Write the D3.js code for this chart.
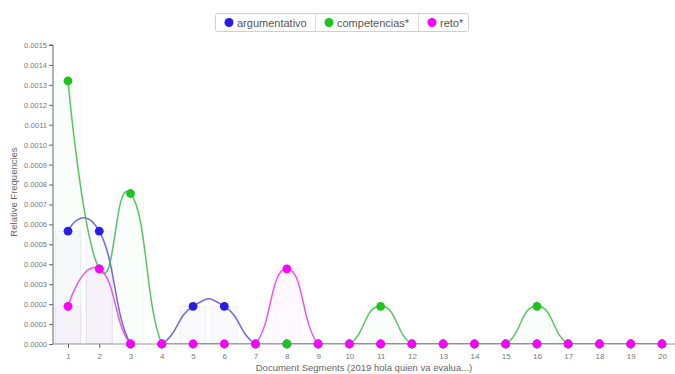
<!DOCTYPE html>
<html>
<head>
<meta charset="utf-8">
<script src="https://cdn.jsdelivr.net/npm/d3@7"></script>
<style>
  html, body { margin: 0; padding: 0; background: #fff; }
  svg { display: block; font-family: "Liberation Sans", Arial, sans-serif; }
</style>
</head>
<body>
<svg id="chart" width="675" height="374"></svg>
<script>
// Relative frequencies of three terms across 20 document segments
const segments = d3.range(1, 21);
const seriesNames = ["argumentativo", "competencias*", "reto*"];
const argumentativo = [0.000566, 0.000566, 0, 0, 0.000189, 0.000189, 0, 0, 0, 0, 0, 0, 0, 0, 0, 0, 0, 0, 0, 0];
const competencias = [0.00132, 0.000377, 0.000755, 0, 0, 0, 0, 0, 0, 0, 0.000189, 0, 0, 0, 0, 0.000189, 0, 0, 0, 0];
const reto = [0.000189, 0.000377, 0, 0, 0, 0, 0, 0.000377, 0, 0, 0, 0, 0, 0, 0, 0, 0, 0, 0, 0];
const yTicks = d3.range(0, 16).map(i => i / 10000);
const seriesValues = [argumentativo, competencias, reto];
const dotColors = ["#2a1ce6", "#1ec41e", "#ff00ff"];
const lineColors = ["#5a4ede", "#3cb84a", "#e83ae8"];

const svg = d3.select("#chart");
const plot = { left: 53, right: 675, top: 45, bottom: 344 };

const x = d3.scaleLinear().domain([1, 20]).range([68, 662]);
const y = d3.scaleLinear().domain([0, 0.0015]).range([plot.bottom, plot.top]);
const barW = 26;

svg.append("defs").append("clipPath").attr("id", "plotClip")
  .append("rect")
  .attr("x", plot.left).attr("y", 0)
  .attr("width", plot.right - plot.left).attr("height", plot.bottom);

const body = svg.append("g").attr("clip-path", "url(#plotClip)");

// faint per-segment bars behind the lines
seriesValues.forEach((vals, si) => {
  body.append("g").selectAll("rect")
    .data(vals.map((v, i) => ({ seg: segments[i], v })).filter(d => d.v > 0))
    .join("rect")
    .attr("x", d => x(d.seg) - barW / 2)
    .attr("y", d => y(d.v))
    .attr("width", barW)
    .attr("height", d => y(0) - y(d.v))
    .attr("fill", dotColors[si])
    .attr("fill-opacity", 0.022)
    .attr("stroke", dotColors[si])
    .attr("stroke-opacity", 0.06)
    .attr("stroke-width", 1);
});

// smoothed lines
const line = d3.line()
  .x((d, i) => x(segments[i]))
  .y(d => y(d))
  .curve(d3.curveCardinal.tension(-0.6));

seriesValues.forEach((vals, si) => {
  body.append("path")
    .datum(vals)
    .attr("d", line)
    .attr("fill", "none")
    .attr("stroke", lineColors[si])
    .attr("stroke-width", 1.5)
    .attr("stroke-opacity", 0.85);
});

// axes
const yAxis = d3.axisLeft(y).tickValues(yTicks).tickFormat(d3.format(".4f")).tickSize(4).tickPadding(2);
const yg = svg.append("g").attr("transform", `translate(${plot.left},0)`).call(yAxis);
yg.select(".domain").attr("stroke", "#666").attr("d", `M-4,${plot.top}H0V${plot.bottom}`);
yg.selectAll(".tick line").attr("stroke", "#666");
yg.selectAll("text").attr("fill", "#777").style("font-size", "7.5px");

const xAxis = d3.axisBottom(x).tickValues(segments).tickFormat(d3.format("d")).tickSize(4).tickPadding(5);
const xg = svg.append("g").attr("transform", `translate(0,${plot.bottom})`).call(xAxis);
xg.select(".domain").attr("stroke", "#999").attr("d", `M${plot.left},0H${plot.right}`);
xg.selectAll(".tick line").attr("stroke", "#666");
xg.selectAll("text").attr("fill", "#777").style("font-size", "8px");

svg.append("text")
  .attr("transform", `translate(17,192) rotate(-90)`)
  .attr("text-anchor", "middle")
  .attr("fill", "#666").style("font-size", "9.5px")
  .text("Relative Frequencies");

svg.append("text")
  .attr("x", 364).attr("y", 371)
  .attr("text-anchor", "middle")
  .attr("fill", "#666").style("font-size", "9.5px")
  .text("Document Segments (2019 hola quien va evalua...)");

// dots
seriesValues.forEach((vals, si) => {
  svg.append("g").selectAll("circle")
    .data(vals)
    .join("circle")
    .attr("cx", (d, i) => x(segments[i]))
    .attr("cy", d => y(d))
    .attr("r", 4.4)
    .attr("fill", dotColors[si]);
});

// legend
const legend = svg.append("g");
const legendItems = [
  { x: 215, w: 100 },
  { x: 315, w: 103 },
  { x: 418, w: 50 }
];
legend.append("rect")
  .attr("x", 215.5).attr("y", 13.5).attr("width", 253).attr("height", 18)
  .attr("rx", 2).attr("fill", "#fff").attr("stroke", "#cfcfcf");
legendItems.slice(1).forEach(it => {
  legend.append("line")
    .attr("x1", it.x + 0.5).attr("x2", it.x + 0.5)
    .attr("y1", 14).attr("y2", 31)
    .attr("stroke", "#dcdcdc");
});
seriesNames.forEach((name, si) => {
  const it = legendItems[si];
  legend.append("circle")
    .attr("cx", it.x + 14).attr("cy", 22.5).attr("r", 4.5)
    .attr("fill", dotColors[si]);
  legend.append("text")
    .attr("x", it.x + 22).attr("y", 26.5)
    .attr("fill", "#555").style("font-size", "11px")
    .text(name);
});
</script>
</body>
</html>
